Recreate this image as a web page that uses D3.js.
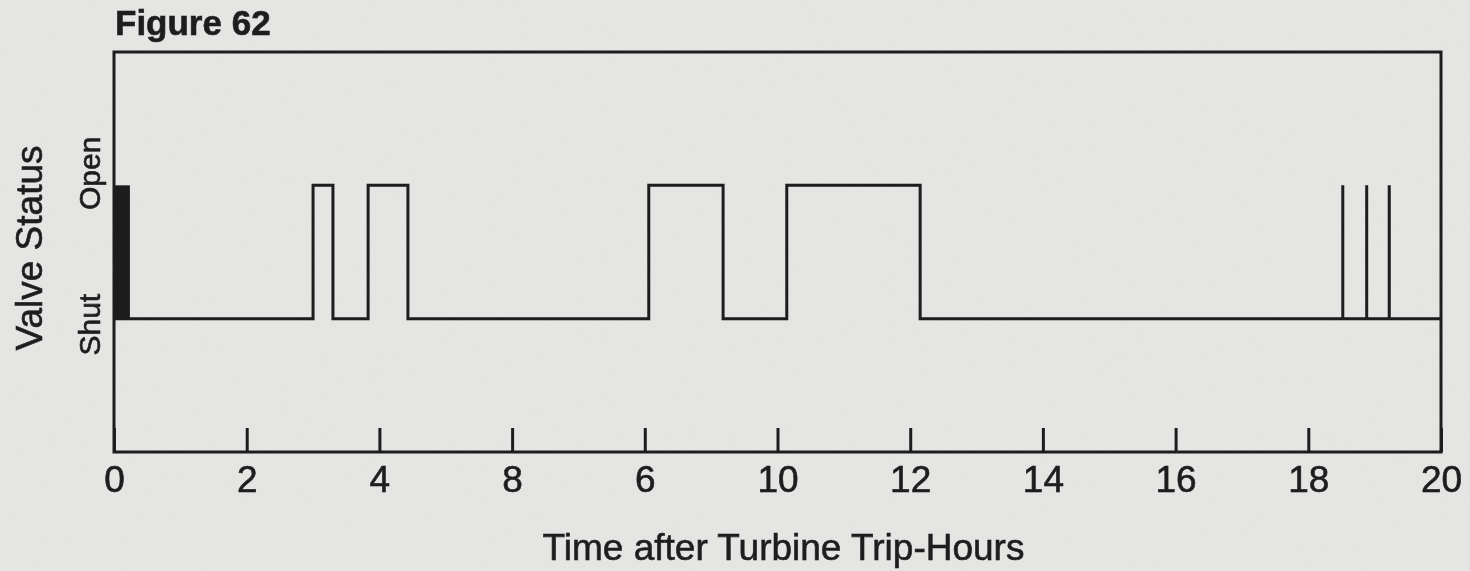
<!DOCTYPE html>
<html>
<head>
<meta charset="utf-8">
<script src="https://cdn.jsdelivr.net/npm/d3@7"></script>
<style>
  html, body { margin: 0; padding: 0; background: #e7e7e5; }
  svg { display: block; }
  text { font-family: "Liberation Sans", Arial, Helvetica, sans-serif; fill: #161616; stroke: #161616; stroke-width: 0.6px; }
</style>
</head>
<body>
<svg id="chart" width="1470" height="571"></svg>
<script>
// Valve status (1 = open, 0 = shut) at each change time, hours after turbine trip
const eventHours  = [0.0, 3.0, 3.3, 3.83, 4.43, 8.06, 9.18, 10.14, 12.15, 18.52, 18.52, 18.88, 18.88, 19.22, 19.22, 20.0];
const eventStates = [0,   1,   0,   1,    0,    1,    0,    1,     0,     1,     0,     1,     0,     1,     0,     0];

// Interval of rapid open/shut cycling just after the trip
const cyclingStart = [0.0];
const cyclingEnd   = [0.24];

// Axis ticks and their printed labels
const tickHours  = [0, 2, 4, 6, 8, 10, 12, 14, 16, 18, 20];
const tickLabels = ["0", "2", "4", "8", "6", "10", "12", "14", "16", "18", "20"];

const stateNames  = ["Shut", "Open"];
const stateValues = [0, 1];

const ink = "#161616";
const svg = d3.select("#chart");
const W = 1470, H = 571;

// subtle paper grain and softness
const defs = svg.append("defs");
const soft = defs.append("filter").attr("id", "soft")
  .attr("x", "-2%").attr("y", "-2%").attr("width", "104%").attr("height", "104%");
soft.append("feGaussianBlur").attr("stdDeviation", 0.6);
const grain = defs.append("filter").attr("id", "grain");
grain.append("feTurbulence").attr("type", "fractalNoise").attr("baseFrequency", 0.9).attr("numOctaves", 2).attr("seed", 7);
grain.append("feColorMatrix").attr("type", "matrix")
  .attr("values", "0 0 0 0 0.5  0 0 0 0 0.5  0 0 0 0 0.5  0 0 0 0.09 0");

svg.append("rect").attr("width", W).attr("height", H).attr("fill", "#e7e7e5");

const margin = { left: 114, right: 29, top: 52, bottom: 119 };
const x = d3.scaleLinear().domain([0, 20]).range([margin.left, W - margin.right]);
const y = d3.scaleLinear().domain([-1, 2]).range([H - margin.bottom, margin.top]);

const g = svg.append("g").attr("filter", "url(#soft)");

// plot frame
g.append("rect")
  .attr("x", x(0)).attr("y", y(2))
  .attr("width", x(20) - x(0)).attr("height", y(-1) - y(2))
  .attr("fill", "none").attr("stroke", ink).attr("stroke-width", 3);

// bottom axis with inward ticks
const xAxis = d3.axisBottom(x)
  .tickValues(tickHours)
  .tickFormat((d, i) => tickLabels[i])
  .tickSizeInner(-24).tickSizeOuter(0).tickPadding(13);
const ax = g.append("g").attr("transform", `translate(0,${y(-1)})`).call(xAxis);
ax.select(".domain").remove();
ax.selectAll(".tick line").attr("stroke", ink).attr("stroke-width", 3);
ax.selectAll(".tick text")
  .attr("y", 13).attr("dy", "0.72em")
  .style("font-size", "37px").attr("fill", ink);

// rapid cycling band
g.selectAll(".cycling")
  .data(cyclingStart.map((s, i) => [s, cyclingEnd[i]]))
  .join("rect")
  .attr("class", "cycling")
  .attr("x", d => x(d[0])).attr("width", d => x(d[1]) - x(d[0]))
  .attr("y", y(1)).attr("height", y(0) - y(1))
  .attr("fill", ink);

// valve status trace
const pts = eventHours.map((t, i) => [t, eventStates[i]]);
const line = d3.line().x(d => x(d[0])).y(d => y(d[1])).curve(d3.curveStepAfter);
g.append("path")
  .datum(pts)
  .attr("d", line)
  .attr("fill", "none").attr("stroke", ink).attr("stroke-width", 3)
  .attr("stroke-linejoin", "miter").attr("stroke-miterlimit", 2);

// state labels on the left
const stateOffset = { Open: -12, Shut: 6 };
g.selectAll(".state")
  .data(stateNames)
  .join("text")
  .attr("class", "state")
  .attr("transform", (d, i) => `translate(100,${y(stateValues[i]) + stateOffset[d]}) rotate(-90)`)
  .attr("text-anchor", "middle")
  .style("font-size", "30px")
  .text(d => d);

// y axis title
g.append("text")
  .attr("transform", `translate(42,${248}) rotate(-90)`)
  .attr("text-anchor", "middle")
  .style("font-size", "37px")
  .text("Valve Status");

// x axis title
g.append("text")
  .attr("x", (x(0) + x(20)) / 2 + 6).attr("y", 560)
  .attr("text-anchor", "middle")
  .style("font-size", "37px")
  .text("Time after Turbine Trip-Hours");

// figure caption
g.append("text")
  .attr("x", 115).attr("y", 35)
  .style("font-size", "35px").style("font-weight", "bold")
  .text("Figure 62");

svg.append("rect").attr("width", W).attr("height", H).attr("filter", "url(#grain)").attr("pointer-events", "none");
</script>
</body>
</html>
